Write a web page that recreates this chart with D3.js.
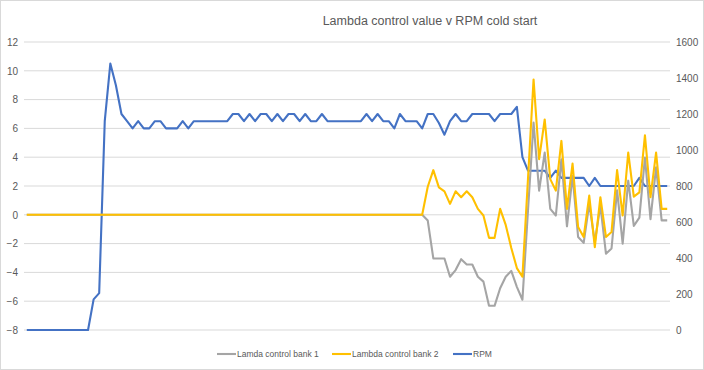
<!DOCTYPE html>
<html>
<head>
<meta charset="utf-8">
<script src="https://cdn.jsdelivr.net/npm/d3@7"></script>
<style>
  body { margin: 0; background: #fff; }
  text { font-family: "Liberation Sans", Arial, sans-serif; fill: #595959; }
</style>
</head>
<body>
<svg id="chart" width="704" height="370"></svg>
<script>
// readings, one per sample
const bank1 = [
  0,0,0,0,0,0,0,0,0,0,
  0,0,0,0,0,0,0,0,0,0,
  0,0,0,0,0,0,0,0,0,0,
  0,0,0,0,0,0,0,0,0,0,
  0,0,0,0,0,0,0,0,0,0,
  0,0,0,0,0,0,0,0,0,0,
  0,0,0,0,0,0,0,0,0,0,
  0,0,-0.4,-3.03,-3.03,-3.03,-4.3,-3.84,-3.08,-3.45,
  -3.45,-4.3,-4.64,-6.32,-6.32,-5.1,-4.3,-3.9,-5.0,-5.9,
  0.3,6.4,1.68,4.32,0.41,-0.05,3.86,-0.8,2.71,-1.54,
  -1.95,0.76,-1.9,0.64,-2.7,-2.34,1.7,-2.0,2.37,-0.77,
  -0.2,3.98,-0.3,3.3,-0.39,-0.39
];
const bank2 = [
  0,0,0,0,0,0,0,0,0,0,
  0,0,0,0,0,0,0,0,0,0,
  0,0,0,0,0,0,0,0,0,0,
  0,0,0,0,0,0,0,0,0,0,
  0,0,0,0,0,0,0,0,0,0,
  0,0,0,0,0,0,0,0,0,0,
  0,0,0,0,0,0,0,0,0,0,
  0,0,1.95,3.1,1.9,1.63,0.76,1.63,1.22,1.63,
  1.22,0.41,-0.05,-1.6,-1.6,0.41,-0.7,-2.3,-3.7,-4.3,
  2.5,9.4,3.86,6.62,2.48,1.68,5.13,0.41,3.56,-0.85,
  -1.54,1.33,-2.25,1.22,-1.54,-1.2,3.1,-0.05,4.32,1.26,
  1.56,5.52,1.22,4.32,0.41,0.41
];
const rpm = [
  0,0,0,0,0,0,0,0,0,0,
  0,0,170,205,1160,1480,1360,1200,1160,1120,
  1160,1120,1120,1160,1160,1120,1120,1120,1160,1120,
  1160,1160,1160,1160,1160,1160,1160,1200,1200,1160,
  1200,1160,1200,1200,1160,1200,1160,1200,1200,1160,
  1200,1160,1160,1200,1160,1160,1160,1160,1160,1160,
  1160,1200,1160,1200,1160,1160,1120,1200,1160,1160,
  1160,1120,1200,1200,1150,1085,1160,1200,1160,1160,
  1200,1200,1200,1200,1160,1200,1200,1200,1240,960,
  885,885,885,885,845,885,845,845,845,845,
  845,800,845,800,800,800,800,800,800,800,
  845,800,800,800,800,800
];
const samples = rpm.map((d, i) => i);
const leftTicks = [-8, -6, -4, -2, 0, 2, 4, 6, 8, 10, 12];
const rightTicks = [0, 200, 400, 600, 800, 1000, 1200, 1400, 1600];
const title = "Lambda control value v RPM cold start";
const seriesNames = ["Lamda control bank 1", "Lambda control bank 2", "RPM"];

let svg = d3.select("#chart");

// chart area border
svg.append("rect")
  .attr("x", 0.5).attr("y", 0.5)
  .attr("width", 703).attr("height", 369)
  .attr("fill", "none").attr("stroke", "#d9d9d9");

let x = d3.scalePoint().domain(samples).range([24, 670]).padding(0.5);
let yL = d3.scaleLinear().domain([-8, 12]).range([330, 42]);
let yR = d3.scaleLinear().domain([0, 1600]).range([330, 42]);

// gridlines
svg.append("g")
  .selectAll("line")
  .data(leftTicks)
  .join("line")
  .attr("x1", 24).attr("x2", 670)
  .attr("y1", d => yL(d)).attr("y2", d => yL(d))
  .attr("stroke", "#d9d9d9").attr("stroke-width", 1);

// axes
let axL = svg.append("g")
  .attr("transform", "translate(18,0)")
  .call(d3.axisLeft(yL).tickValues(leftTicks).tickSize(0).tickPadding(0));
let axR = svg.append("g")
  .attr("transform", "translate(676,0)")
  .call(d3.axisRight(yR).tickValues(rightTicks).tickFormat(d3.format("d")).tickSize(0).tickPadding(0));
[axL, axR].forEach(a => {
  a.select(".domain").remove();
  a.selectAll("text")
    .style("font-family", "Liberation Sans, Arial, sans-serif")
    .style("font-size", "10px")
    .attr("fill", "#595959");
});

// lines
let lineL = d3.line().x((d, i) => x(i)).y(d => yL(d));
let lineR = d3.line().x((d, i) => x(i)).y(d => yR(d));

svg.append("path").datum(rpm)
  .attr("d", lineR).attr("fill", "none")
  .attr("stroke", "#4472C4").attr("stroke-width", 2.1)
  .attr("stroke-linejoin", "round");
svg.append("path").datum(bank1)
  .attr("d", lineL).attr("fill", "none")
  .attr("stroke", "#A5A5A5").attr("stroke-width", 2.1)
  .attr("stroke-linejoin", "round");
svg.append("path").datum(bank2)
  .attr("d", lineL).attr("fill", "none")
  .attr("stroke", "#FFC000").attr("stroke-width", 2.1)
  .attr("stroke-linejoin", "round");

// title
svg.append("text")
  .attr("x", 430).attr("y", 25)
  .attr("text-anchor", "middle")
  .style("font-size", "12.5px")
  .text(title);

// legend
let colors = ["#A5A5A5", "#FFC000", "#4472C4"];
let legendX = [217, 332, 453];
let leg = svg.append("g");
seriesNames.forEach((name, i) => {
  leg.append("line")
    .attr("x1", legendX[i]).attr("x2", legendX[i] + 19)
    .attr("y1", 354).attr("y2", 354)
    .attr("stroke", colors[i]).attr("stroke-width", 2.1);
  leg.append("text")
    .attr("x", legendX[i] + 20).attr("y", 357)
    .style("font-size", "8.5px")
    .text(name);
});
</script>
</body>
</html>
